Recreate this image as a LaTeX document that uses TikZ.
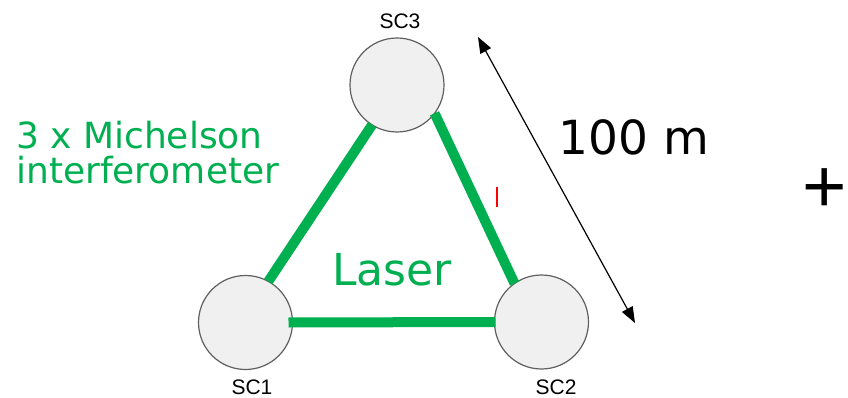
\documentclass[tikz,border=0pt]{standalone}
\usepackage{fontspec}
\setmainfont{DejaVu Sans}
\newfontfamily\labfont{Liberation Sans}
\usetikzlibrary{arrows.meta}
\definecolor{lasergreen}{HTML}{00B050}
\definecolor{scfill}{HTML}{F0F0F0}
\definecolor{scdraw}{HTML}{606060}
\tikzset{
  sc/.style={circle, draw=scdraw, line width=1.2pt, fill=scfill, minimum size=94pt, inner sep=0pt, outer sep=0pt},
  sclabel/.style={font=\labfont\fontsize{21}{21}\selectfont, inner sep=0pt},
  beam/.style={draw=lasergreen, line width=10pt},
  greentext/.style={text=lasergreen, inner sep=0pt, align=left},
  dimarrow/.style={line width=1.2pt, {Triangle[length=16pt,width=12pt]}-{Triangle[length=16pt,width=12pt]}}
}
\begin{document}
\begin{tikzpicture}[x=1pt,y=-1pt]
\useasboundingbox (0,0) rectangle (848,398);
\node[sc] (sc1) at (245.5,322.5) {};
\node[sc] (sc2) at (541.5,322) {};
\node[sc] (sc3) at (397,85) {};
\node[sclabel] (l1) at (252,387.5) {SC1};
\node[sclabel] (l2) at (556,387.5) {SC2};
\node[sclabel] (l3) at (400,21) {SC3};
\draw[beam] (sc1.61) -- (sc3.238);
\draw[beam] (sc3.-37) -- (sc2.125);
\draw[beam] ([xshift=-4]sc1.east) -- ([xshift=1]sc2.west);
\node[greentext, anchor=base west, font=\fontsize{36}{35}\selectfont] (mich) at (16,183) {3 x Michelson\\interferometer};
\node[greentext, anchor=base, font=\fontsize{44}{44}\selectfont] (laser) at (392,285) {Laser};
\coordinate (a1) at (478,37);
\coordinate (a2) at (635,323);
\draw[dimarrow] (a1) -- (a2);
\node[anchor=base, inner sep=0pt, font=\fontsize{47}{47}\selectfont] (dist) at (634,155) {100 m};
\coordinate (t1) at (497,187);
\coordinate (t2) at (497,207);
\draw[red, line width=1.3pt] (t1) -- (t2);
\node[inner sep=0pt, font=\labfont\fontsize{76}{76}\selectfont] (plus) at (825,191) {+};
\end{tikzpicture}
\end{document}
